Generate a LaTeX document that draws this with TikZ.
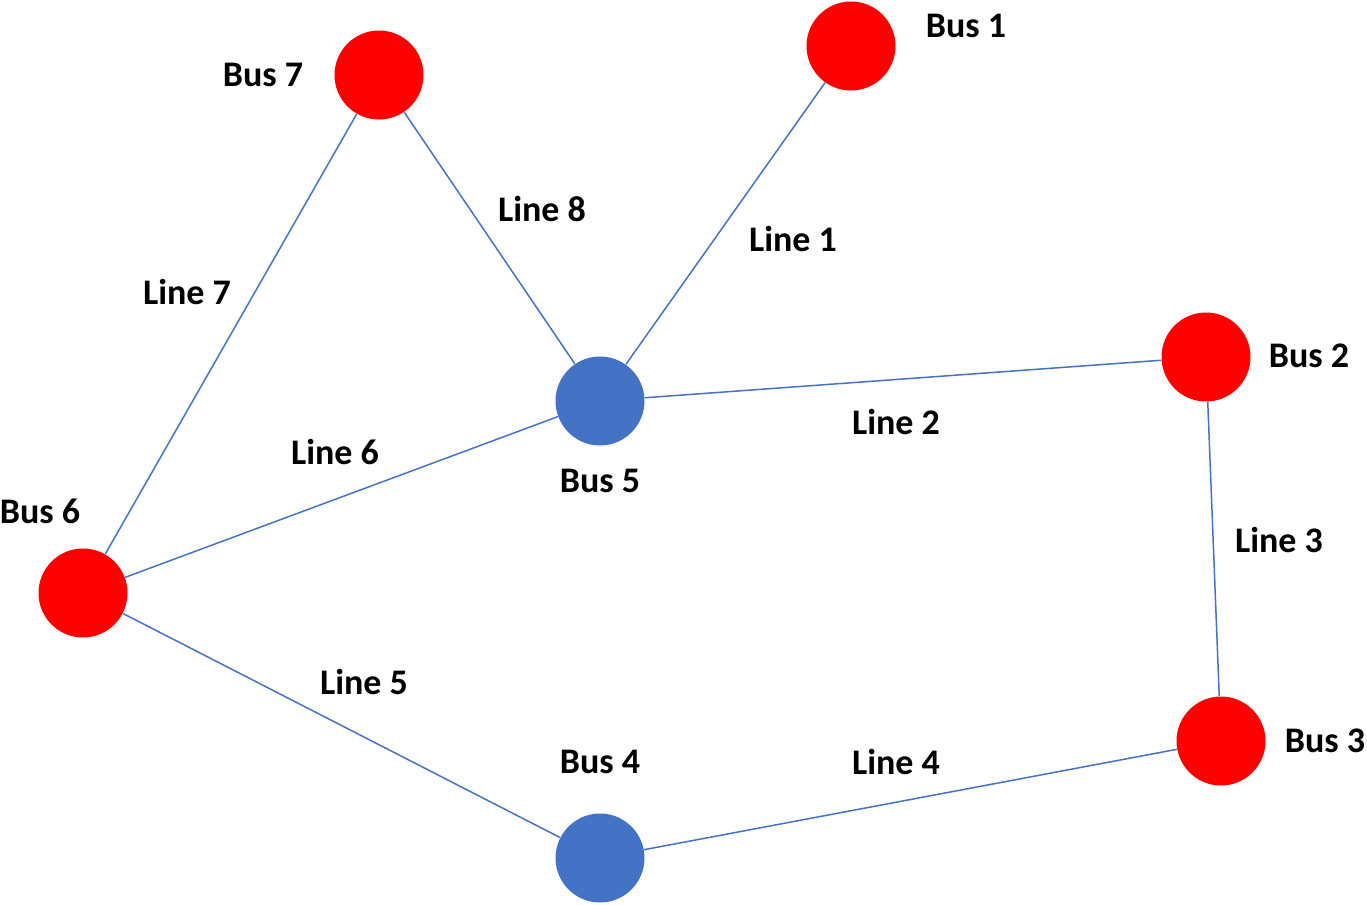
\documentclass[tikz,border=0pt]{standalone}
\usepackage{fontspec}
\setmainfont{Carlito}
\definecolor{busred}{HTML}{FF0000}
\definecolor{busblue}{HTML}{4472C4}
\tikzset{
	genbus/.style={circle,fill=busred,minimum size=44.5pt,inner sep=0pt},
	loadbus/.style={circle,fill=busblue,minimum size=44.5pt,inner sep=0pt},
	wire/.style={busblue,line width=0.75pt},
	tag/.style={font=\fontsize{18}{21}\selectfont\bfseries,inner sep=0pt}
}
\begin{document}
\begin{tikzpicture}[x=0.5pt,y=-0.5pt]
				\useasboundingbox (0,0) rectangle (1367,905);
				% buses
				\node[genbus] (b1) at (851,46) {};
				\node[genbus] (b7) at (379,75) {};
				\node[loadbus] (b5) at (600,401) {};
				\node[genbus] (b2) at (1206,357) {};
				\node[genbus] (b6) at (83,593) {};
				\node[genbus] (b3) at (1221,741) {};
				\node[loadbus] (b4) at (600,858) {};
				% lines
				\draw[wire] (b5) -- (b1);
				\draw[wire] (b5) -- (b2);
				\draw[wire] (b2) -- (b3);
				\draw[wire] (b3) -- (b4);
				\draw[wire] (b4) -- (b6);
				\draw[wire] (b6) -- (b5);
				\draw[wire] (b6) -- (b7);
				\draw[wire] (b7) -- (b5);
				% bus names
				\node[tag] (n1) at (966,26) {Bus 1};
				\node[tag] (n2) at (1309,356) {Bus 2};
				\node[tag] (n3) at (1325,741) {Bus 3};
				\node[tag] (n4) at (600,762) {Bus 4};
				\node[tag] (n5) at (600,481) {Bus 5};
				\node[tag] (n6) at (40,511) {Bus 6};
				\node[tag] (n7) at (263,75) {Bus 7};
				% line names
				\node[tag] (t1) at (793,239) {Line 1};
				\node[tag] (t2) at (896,422) {Line 2};
				\node[tag] (t3) at (1279,540) {Line 3};
				\node[tag] (t4) at (896,762) {Line 4};
				\node[tag] (t5) at (364,682) {Line 5};
				\node[tag] (t6) at (335,452) {Line 6};
				\node[tag] (t7) at (187,292) {Line 7};
				\node[tag] (t8) at (542,209) {Line 8};
			\end{tikzpicture}
\end{document}
